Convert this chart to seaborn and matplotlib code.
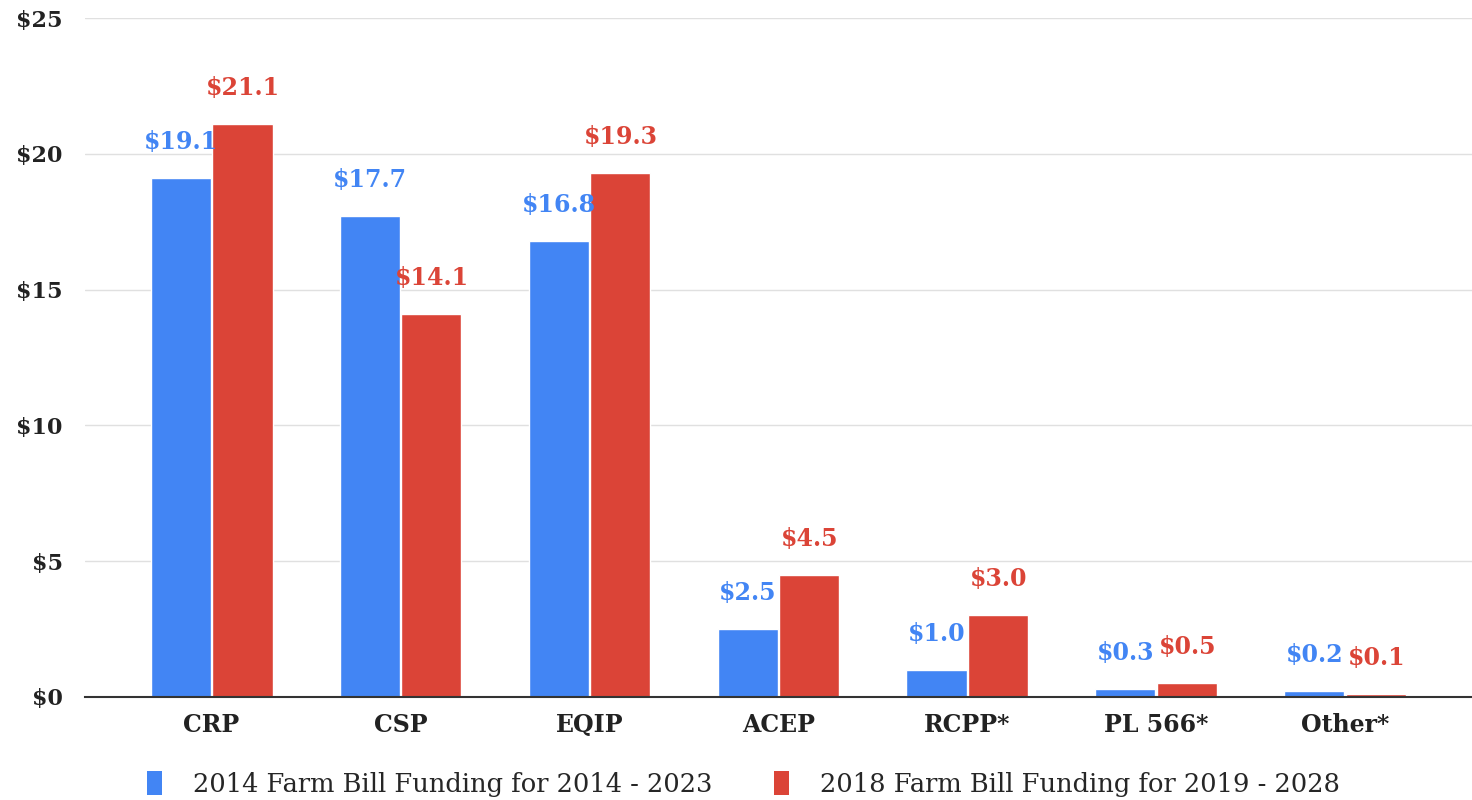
import matplotlib
matplotlib.use("Agg")
import matplotlib.pyplot as plt
import seaborn as sns
import pandas as pd
from matplotlib.ticker import FuncFormatter
from matplotlib.patches import Patch

categories = ["CRP", "CSP", "EQIP", "ACEP", "RCPP*", "PL 566*", "Other*"]
funding_2014 = [19.1, 17.7, 16.8, 2.5, 1.0, 0.3, 0.2]
funding_2018 = [21.1, 14.1, 19.3, 4.5, 3.0, 0.5, 0.1]
series_names = ["2014 Farm Bill Funding for 2014 - 2023", "2018 Farm Bill Funding for 2019 - 2028"]
y_ticks = [0, 5, 10, 15, 20, 25]

blue = "#4285F4"
red = "#DB4437"

df = pd.DataFrame({
    "Program": categories * 2,
    "Funding": funding_2014 + funding_2018,
    "Series": [series_names[0]] * len(categories) + [series_names[1]] * len(categories),
})

sns.set_theme(style="white")
plt.rcParams["font.family"] = ["DejaVu Serif"]

fig = plt.figure(figsize=(14.72, 8), dpi=100)
ax = fig.add_axes([0.0577, 0.129, 0.9423, 0.8485])

sns.barplot(data=df, x="Program", y="Funding", hue="Series", order=categories,
            hue_order=series_names, palette=[blue, red], width=0.655, gap=0.03,
            saturation=1, ax=ax, legend=False)

ax.set_xlim(-0.67, 6.67)
ax.set_ylim(0, 25)
ax.set_yticks(y_ticks)
ax.yaxis.set_major_formatter(FuncFormatter(lambda v, p: f"${v:.0f}"))
ax.grid(axis="y", color="#e0e0e0", linewidth=1)
ax.set_axisbelow(True)
for s in ["left", "right", "top"]:
    ax.spines[s].set_visible(False)
ax.spines["bottom"].set_color("#333333")
ax.spines["bottom"].set_linewidth(1.5)
ax.set_xlabel("")
ax.set_ylabel("")
ax.tick_params(axis="y", labelsize=16, colors="#222222", pad=16, length=0)
ax.tick_params(axis="x", labelsize=17, colors="#222222", pad=12, length=0)
for lbl in ax.get_xticklabels():
    lbl.set_fontweight("bold")
for lbl in ax.get_yticklabels():
    lbl.set_fontweight("bold")

for container, col in zip(ax.containers, [blue, red]):
    for bar in container:
        h = bar.get_height()
        ax.annotate(f"${h:.1f}", (bar.get_x() + bar.get_width() / 2, h),
                    xytext=(0, 26), textcoords="offset points", ha="center", va="center",
                    fontsize=17, fontweight="bold", color=col)

handles = [Patch(facecolor=blue, edgecolor="none"), Patch(facecolor=red, edgecolor="none")]
fig.legend(handles, series_names, loc="lower center", ncol=2, frameon=False,
           bbox_to_anchor=(0.505, -0.025), fontsize=18.5, handlelength=0.6, handleheight=1.1,
           columnspacing=2.4, handletextpad=1.2)

fig.savefig("out.png", dpi=100)
